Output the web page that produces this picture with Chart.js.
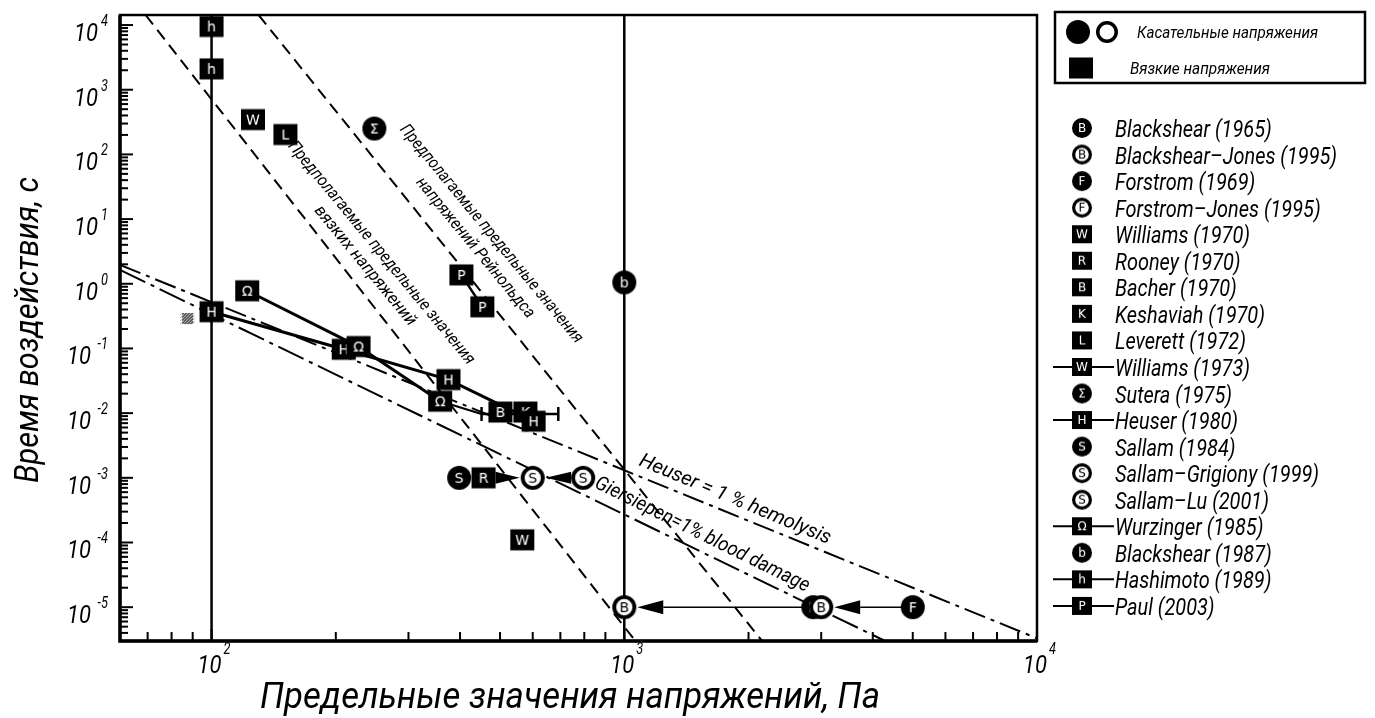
<!DOCTYPE html>
<html>
<head>
<meta charset="utf-8">
<script src="https://cdn.jsdelivr.net/npm/chart.js@4.4.1/dist/chart.umd.min.js"></script>
<style>
  html, body { margin: 0; padding: 0; background: #fff; }
  #wrap { width: 1375px; height: 718px; }
</style>
</head>
<body>
<div id="wrap"><canvas id="chart" width="1375" height="718"></canvas></div>
<script>
// Axis ranges
const X_MIN = 60, X_MAX = 10000;
const Y_MIN = 3e-6, Y_MAX = 1.43e4;

// Tick labels: base 10 with exponent
const xTickValues = [100, 1000, 10000];
const xTickExp = ['2', '3', '4'];
const yTickValues = [1e-5, 1e-4, 1e-3, 1e-2, 1e-1, 1, 10, 100, 1000, 10000];
const yTickExp = ['-5', '-4', '-3', '-2', '-1', '0', '1', '2', '3', '4'];

// Series points: [stress, Pa ; exposure time, s]
const blackshear1965 = [[2870, 1e-5]];
const blackshearJones1995 = [[1000, 1e-5], [3000, 1e-5]];
const forstrom1969 = [[5000, 1e-5]];
const forstromJones1995 = [];
const williams1970 = [[126, 345]];
const rooney1970 = [[456, 1e-3]];
const bacher1970 = [[501, 0.0104]];
const keshaviah1970 = [[576, 0.0104]];
const leverett1972 = [[151, 203]];
const williams1973 = [[566, 1.1e-4]];
const sutera1975 = [[248, 251]];
const heuser1980 = [[100, 0.37], [209, 0.097], [375, 0.033], [603, 0.0075]];
const sallam1984 = [[398, 1e-3]];
const sallamGrigiony1999 = [[600, 1e-3]];
const sallamLu2001 = [[795, 1e-3]];
const wurzinger1985 = [[122, 0.78], [227, 0.107], [358, 0.0153]];
const blackshear1987 = [[1000, 1.05]];
const hashimoto1989 = [[100, 9500], [100, 2100]];
const paul2003 = [[403, 1.37], [453, 0.44]];

// Legend
const legendNames = ['Blackshear (1965)', 'Blackshear–Jones (1995)', 'Forstrom (1969)', 'Forstrom–Jones (1995)',
  'Williams (1970)', 'Rooney (1970)', 'Bacher (1970)', 'Keshaviah (1970)', 'Leverett (1972)', 'Williams (1973)',
  'Sutera (1975)', 'Heuser (1980)', 'Sallam (1984)', 'Sallam–Grigiony (1999)', 'Sallam–Lu (2001)',
  'Wurzinger (1985)', 'Blackshear (1987)', 'Hashimoto (1989)', 'Paul (2003)'];
const legendKinds = ['dot', 'ring', 'dot', 'ring', 'sq', 'sq', 'sq', 'sq', 'sq', 'sq',
  'dot', 'sq', 'dot', 'ring', 'ring', 'sq', 'dot', 'sq', 'sq'];
const legendLetters = ['B', 'B', 'F', 'F', 'W', 'R', 'B', 'K', 'L', 'W', 'Σ', 'H', 'S', 'S', 'S', 'Ω', 'b', 'h', 'P'];
const legendLined = [0, 0, 0, 0, 0, 0, 0, 0, 0, 1, 0, 1, 0, 0, 0, 1, 0, 1, 1];
const seriesData = [blackshear1965, blackshearJones1995, forstrom1969, forstromJones1995, williams1970,
  rooney1970, bacher1970, keshaviah1970, leverett1972, williams1973, sutera1975, heuser1980, sallam1984,
  sallamGrigiony1999, sallamLu2001, wurzinger1985, blackshear1987, hashimoto1989, paul2003];
const seriesLineWidth = [0, 0, 0, 0, 0, 0, 0, 0, 0, 0, 0, 3, 0, 0, 0, 3, 0, 0, 2.5];

// Reference lines (end points)
const hashimotoLine = [[100, 3e-6], [100, 1.43e4]];
const blackshearLine = [[1000, 3e-6], [1000, 1.43e4]];
const viscousLimit = [[69.2, 1.43e4], [1064, 3e-6]];
const reynoldsLimit = [[130, 1.43e4], [2158, 3e-6]];
const heuserLimit = [[60, 1.96], [10000, 3.3e-6]];
const giersiepenLimit = [[60, 1.64], [4285, 3e-6]];
const errorBar = [[451, 0.0097], [692, 0.0097]];
const wurzingerTail = [[358, 0.0153], [451, 0.0097]];
const unknownPoint = [[87.5, 0.29]];

// Arrows between points
const arrowFrom = [[2870, 1e-5], [5000, 1e-5]];
const arrowTo = [[1000, 1e-5], [3000, 1e-5]];
const wedgeFrom = [[456, 1e-3], [795, 1e-3]];
const wedgeTo = [[600, 1e-3], [600, 1e-3]];

const FONT = "Roboto, 'DejaVu Sans', sans-serif";

function makeMarker(kind, letter, size) {
  const pad = 2;
  const c = document.createElement('canvas');
  c.width = c.height = size + pad * 2;
  const g = c.getContext('2d');
  const m = c.width / 2, r = size / 2;
  g.fillStyle = '#000';
  if (kind === 'sq') {
    const h = Math.round(size * 0.88);
    g.fillRect(m - r, m - h / 2, size, h);
  } else if (kind === 'dot') {
    g.beginPath(); g.arc(m, m, r, 0, Math.PI * 2); g.fill();
  } else if (kind === 'ring') {
    const lw = size * 0.16;
    g.beginPath(); g.arc(m, m, r - lw / 2, 0, Math.PI * 2);
    g.fillStyle = '#fff'; g.fill();
    g.lineWidth = lw; g.strokeStyle = '#000'; g.stroke();
  } else if (kind === 'hatch') {
    g.fillStyle = '#555';
    g.fillRect(m - r, m - r, size, size);
    g.strokeStyle = '#bbb'; g.lineWidth = 1;
    for (let k = -size; k < size; k += 3) {
      g.beginPath(); g.moveTo(m - r + k, m + r); g.lineTo(m - r + k + size, m - r); g.stroke();
    }
  }
  if (letter) {
    g.fillStyle = kind === 'ring' ? '#000' : '#fff';
    g.font = Math.round(size * 0.58) + "px 'DejaVu Sans', sans-serif";
    g.textAlign = 'center';
    g.textBaseline = 'middle';
    g.fillText(letter, m, m + 1);
  }
  return c;
}

function txt(ctx, s, x, y, size, opt = {}) {
  ctx.save();
  ctx.translate(x, y);
  if (opt.rot) ctx.rotate(opt.rot);
  ctx.font = 'italic ' + size + 'px ' + FONT;
  let sx = opt.sx || 0.8;
  if (opt.width) sx = opt.width / ctx.measureText(s).width;
  ctx.scale(sx, 1);
  ctx.textAlign = opt.align || 'left';
  ctx.textBaseline = opt.base || 'alphabetic';
  ctx.fillStyle = '#000';
  ctx.fillText(s, 0, 0);
  ctx.restore();
}

const toXY = arr => arr.map(p => ({ x: p[0], y: p[1] }));

function refLine(pts, width, dash) {
  return {
    data: toXY(pts), showLine: true, borderColor: '#000', borderWidth: width,
    borderDash: dash || [], pointRadius: 0, pointHoverRadius: 0, order: 1000, clip: 0
  };
}

const datasets = [
  refLine(hashimotoLine, 2.5),
  refLine(blackshearLine, 2.5),
  refLine(viscousLimit, 2, [12, 7]),
  refLine(reynoldsLimit, 2, [12, 7]),
  refLine(heuserLimit, 2, [22, 6, 4, 6]),
  refLine(giersiepenLimit, 2, [28, 6, 4, 6]),
  Object.assign(refLine(wurzingerTail, 2), { order: 600 }),
  {
    data: toXY(errorBar), showLine: true, borderColor: '#000', borderWidth: 2.5,
    pointStyle: 'line', rotation: 90, pointRadius: 7, pointBorderWidth: 2.5,
    pointBorderColor: '#000', order: 500
  },
  {
    data: toXY(unknownPoint), pointStyle: makeMarker('hatch', '', 11), pointRadius: 6, order: 400
  }
];

seriesData.forEach((pts, i) => {
  datasets.push({
    label: legendNames[i],
    data: toXY(pts),
    showLine: seriesLineWidth[i] > 0,
    borderColor: '#000',
    borderWidth: seriesLineWidth[i],
    pointStyle: makeMarker(legendKinds[i], legendLetters[i], 24),
    pointRadius: 12,
    pointHoverRadius: 12,
    order: 100 - i
  });
});

const legendIcons = legendKinds.map((k, i) => makeMarker(k, legendLetters[i], 20));

const decor = {
  id: 'decor',
  beforeDatasetsDraw(chart) {
    const ctx = chart.ctx, xs = chart.scales.x, ys = chart.scales.y;
    ctx.save();
    ctx.fillStyle = '#000'; ctx.strokeStyle = '#000';
    // arrows with heads touching the target marker
    arrowFrom.forEach((f, i) => {
      const x0 = xs.getPixelForValue(f[0]), y0 = ys.getPixelForValue(f[1]);
      const x1 = xs.getPixelForValue(arrowTo[i][0]), y1 = ys.getPixelForValue(arrowTo[i][1]);
      const dir = Math.sign(x0 - x1);
      const tip = x1 + dir * 13, base = tip + dir * 26;
      ctx.lineWidth = 1.5;
      ctx.beginPath(); ctx.moveTo(x0, y0); ctx.lineTo(base, y1); ctx.stroke();
      ctx.beginPath(); ctx.moveTo(tip, y1); ctx.lineTo(base, y1 - 7); ctx.lineTo(base, y1 + 7); ctx.closePath(); ctx.fill();
    });
    wedgeFrom.forEach((f, i) => {
      const x0 = xs.getPixelForValue(f[0]), y0 = ys.getPixelForValue(f[1]);
      const x1 = xs.getPixelForValue(wedgeTo[i][0]);
      const dir = Math.sign(x1 - x0);
      const base = x0 + dir * 12, tip = x1 - dir * 13;
      ctx.beginPath(); ctx.moveTo(base, y0 - 6); ctx.lineTo(tip, y0); ctx.lineTo(base, y0 + 6); ctx.closePath(); ctx.fill();
    });
    ctx.restore();
  },
  afterDatasetsDraw(chart) {
    const ctx = chart.ctx, xs = chart.scales.x, ys = chart.scales.y, a = chart.chartArea;
    ctx.save();
    ctx.strokeStyle = '#000'; ctx.fillStyle = '#000';

    // frame
    ctx.lineWidth = 2.5;
    ctx.strokeRect(a.left, a.top, a.right - a.left, a.bottom - a.top);
    ctx.lineWidth = 3.5;
    ctx.beginPath(); ctx.moveTo(a.left, a.top); ctx.lineTo(a.left, a.bottom); ctx.lineTo(a.right, a.bottom); ctx.stroke();

    // inward ticks
    ctx.lineWidth = 2;
    for (let e = 1; e <= 4; e++) {
      for (let m = 1; m <= 9; m++) {
        const v = m * Math.pow(10, e);
        if (v <= X_MIN || v >= X_MAX) continue;
        const px = xs.getPixelForValue(v);
        ctx.beginPath(); ctx.moveTo(px, a.bottom); ctx.lineTo(px, a.bottom - (m === 1 ? 12 : 9)); ctx.stroke();
      }
    }
    for (let e = -6; e <= 4; e++) {
      for (let m = 1; m <= 9; m++) {
        const v = m * Math.pow(10, e);
        if (v <= Y_MIN || v >= Y_MAX) continue;
        const py = ys.getPixelForValue(v);
        ctx.beginPath(); ctx.moveTo(a.left, py); ctx.lineTo(a.left + (m === 1 ? 13 : 8), py); ctx.stroke();
      }
    }

    // tick labels
    xTickValues.forEach((v, i) => {
      const px = xs.getPixelForValue(v);
      txt(ctx, '10', px - 2, a.bottom + 32, 26, { width: 24, align: 'center' });
      txt(ctx, xTickExp[i], px + 12, a.bottom + 13, 16, { sx: 0.8 });
    });
    yTickValues.forEach((v, i) => {
      const py = ys.getPixelForValue(v);
      const supW = yTickExp[i].length > 1 ? 16 : 9;
      txt(ctx, yTickExp[i], 108, py + 1, 16, { sx: 0.8, align: 'right' });
      txt(ctx, '10', 108 - supW - 1, py + 16, 26, { width: 24, align: 'right' });
    });

    // axis titles
    txt(ctx, 'Предельные значения напряжений, Па', 570, 708, 36, { width: 620, align: 'center' });
    txt(ctx, 'Время воздействия, с', 38, 330, 34, { width: 306, align: 'center', rot: -Math.PI / 2 });

    // labels along the limit lines
    const r1 = 50.5 * Math.PI / 180;
    txt(ctx, 'Предполагаемые предельные значения', 491, 234, 17, { width: 278, align: 'center', base: 'middle', rot: r1 });
    txt(ctx, 'напряжений Рейнольдса', 475, 248, 17, { width: 177, align: 'center', base: 'middle', rot: r1 });
    txt(ctx, 'Предполагаемые предельные значения', 381, 253, 17, { width: 284, align: 'center', base: 'middle', rot: r1 });
    txt(ctx, 'вязких напряжений', 365, 266, 17, { width: 150, align: 'center', base: 'middle', rot: r1 });
    txt(ctx, 'Heuser = 1 % hemolysis', 735, 500, 20, { width: 206, align: 'center', base: 'middle', rot: 22.6 * Math.PI / 180 });
    txt(ctx, 'Giersiepen=1% blood damage', 702, 535, 20, { width: 237, align: 'center', base: 'middle', rot: 26.3 * Math.PI / 180 });

    // legend box
    ctx.lineWidth = 2.5;
    ctx.strokeRect(1055, 12, 310, 71);
    const bigDot = makeMarker('dot', '', 24), bigRing = makeMarker('ring', '', 22), bigSq = makeMarker('sq', '', 24);
    ctx.drawImage(bigDot, 1078 - bigDot.width / 2, 32 - bigDot.height / 2);
    ctx.drawImage(bigRing, 1107 - bigRing.width / 2, 32 - bigRing.height / 2);
    ctx.drawImage(bigSq, 1081 - bigSq.width / 2, 68 - bigSq.height / 2);
    txt(ctx, 'Касательные напряжения', 1137, 38, 17, { width: 181 });
    txt(ctx, 'Вязкие напряжения', 1130, 74, 17, { width: 140 });

    // legend entries
    legendNames.forEach((name, i) => {
      const y = 128 + i * 26.55;
      if (legendLined[i]) {
        ctx.lineWidth = 2;
        ctx.beginPath(); ctx.moveTo(1053, y); ctx.lineTo(1114, y); ctx.stroke();
      }
      const ic = legendIcons[i];
      ctx.drawImage(ic, 1082 - ic.width / 2, y - ic.height / 2);
      txt(ctx, name, 1115, y + 9, 24, { sx: 0.83 });
    });
    ctx.restore();
  }
};

new Chart(document.getElementById('chart'), {
  type: 'scatter',
  data: { datasets },
  options: {
    responsive: false,
    animation: false,
    devicePixelRatio: 1,
    layout: { padding: { left: 0, top: 12, right: 338, bottom: 0 } },
    plugins: { legend: { display: false }, tooltip: { enabled: false } },
    elements: { line: { tension: 0 } },
    scales: {
      x: {
        type: 'logarithmic', min: X_MIN, max: X_MAX,
        ticks: { display: false }, grid: { display: false }, border: { display: false },
        afterFit: s => { s.height = 77; }
      },
      y: {
        type: 'logarithmic', min: Y_MIN, max: Y_MAX,
        ticks: { display: false }, grid: { display: false }, border: { display: false },
        afterFit: s => { s.width = 120; }
      }
    }
  },
  plugins: [decor]
});
</script>
</body>
</html>
